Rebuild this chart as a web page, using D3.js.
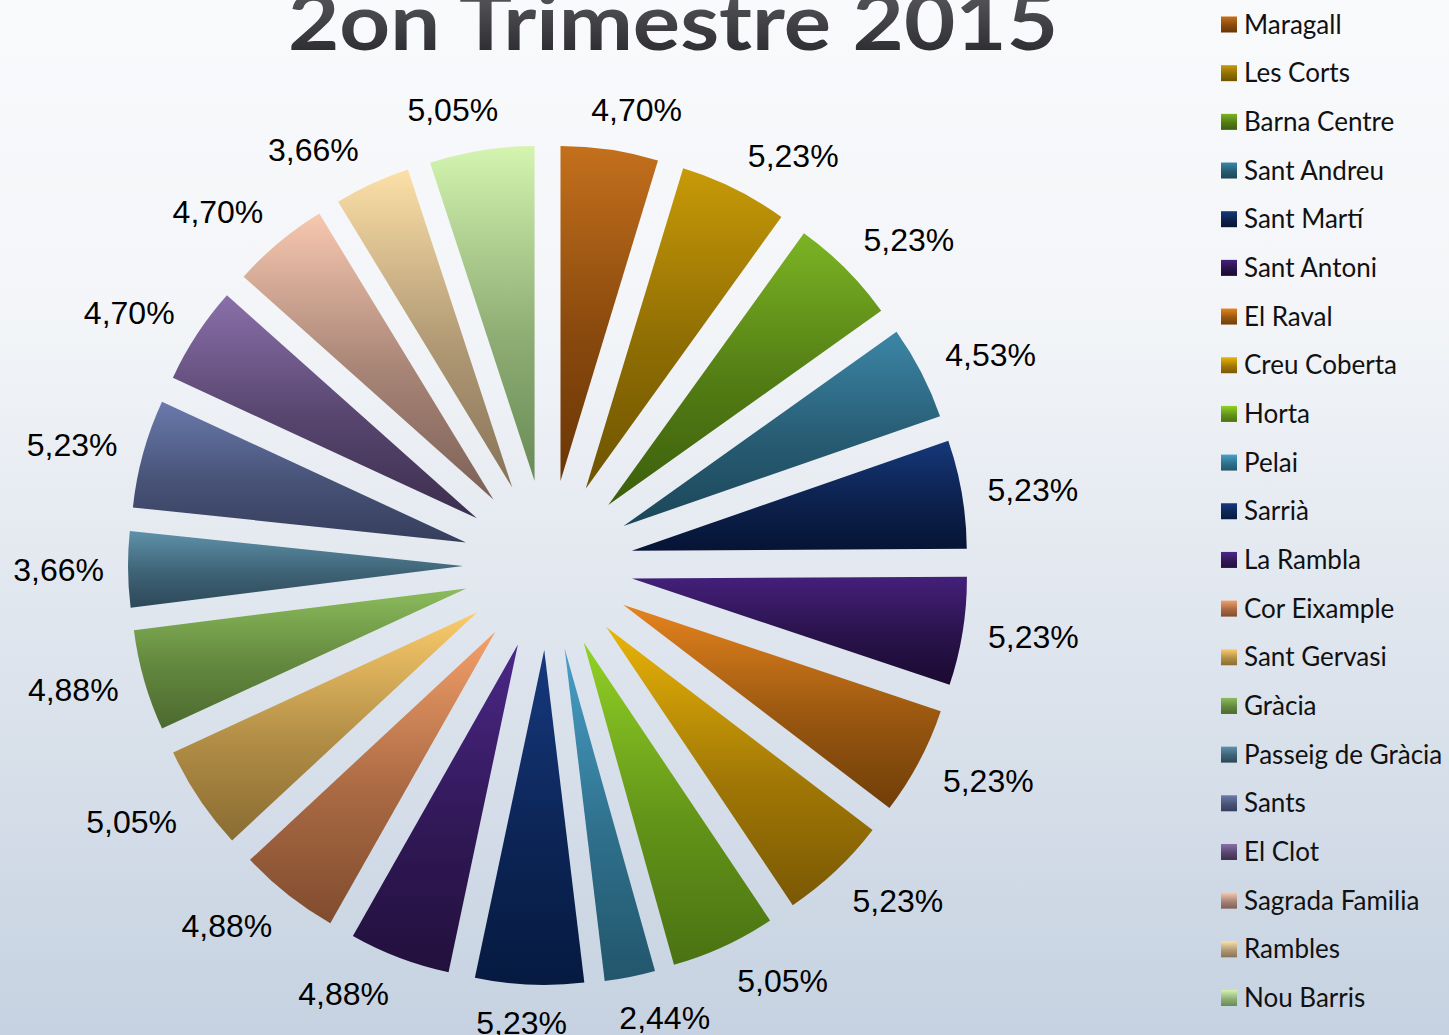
<!DOCTYPE html>
<html>
<head>
<meta charset="utf-8">
<script src="https://cdn.jsdelivr.net/npm/d3@7"></script>
<style>
  html, body { margin: 0; padding: 0; overflow: hidden; }
</style>
</head>
<body>
<div id="chart"></div>
<script>
// data, clockwise from 12 o'clock
const districts = [
  'Maragall', 'Les Corts', 'Barna Centre', 'Sant Andreu', 'Sant Martí', 'Sant Antoni',
  'El Raval', 'Creu Coberta', 'Horta', 'Pelai', 'Sarrià', 'La Rambla', 'Cor Eixample',
  'Sant Gervasi', 'Gràcia', 'Passeig de Gràcia', 'Sants', 'El Clot', 'Sagrada Familia',
  'Rambles', 'Nou Barris'
];
const shares = [
  4.70, 5.23, 5.23, 4.53, 5.23, 5.23, 5.23, 5.23, 5.05, 2.44, 5.23,
  4.88, 4.88, 5.05, 4.88, 3.66, 5.23, 4.70, 4.70, 3.66, 5.05
];

// gradient colours (top / bottom) for each slice
const topColors = [
  '#c4701c', '#c89a08', '#7cb424', '#3c86a6', '#16387a', '#44207a', '#e6841e',
  '#eab408', '#92d226', '#48a0c8', '#16397e', '#4c2888', '#f4a06a', '#fccc6c',
  '#8cbc5c', '#5e92aa', '#6a7aac', '#8a70aa', '#f8c8b0', '#fde0a8', '#d4f4b0'
];
const bottomColors = [
  '#6a3606', '#6e5400', '#3c5e0c', '#1c4658', '#061434', '#1a0a30', '#703e08',
  '#7a5804', '#4a7212', '#22566c', '#061a40', '#22103c', '#804c2e', '#8a6c32',
  '#4c6a2e', '#2c4858', '#363e5c', '#3c2e4e', '#7c6056', '#867258', '#6a8a56'
];

const width = 1449;
const height = 1035;
const cx = 548, cy = 565;
const radius = 335;
const explode = 85;

const svg = d3.select('#chart')
  .append('svg')
  .attr('width', width)
  .attr('height', height);

const defs = svg.append('defs');

// background
const bg = defs.append('linearGradient').attr('id', 'bg')
  .attr('x1', 0).attr('y1', 0).attr('x2', 0).attr('y2', 1);
bg.append('stop').attr('offset', '0%').attr('stop-color', '#f9fafc');
bg.append('stop').attr('offset', '30%').attr('stop-color', '#f3f5f8');
bg.append('stop').attr('offset', '100%').attr('stop-color', '#c6d2e1');
svg.append('rect').attr('width', width).attr('height', height).attr('fill', 'url(#bg)');

// slice gradients
topColors.forEach((c, i) => {
  const g = defs.append('linearGradient').attr('id', 'slice' + i)
    .attr('x1', 0).attr('y1', 0).attr('x2', 0).attr('y2', 1);
  g.append('stop').attr('offset', '0%').attr('stop-color', c);
  g.append('stop').attr('offset', '55%').attr('stop-color', d3.interpolateRgb(c, bottomColors[i])(0.65));
  g.append('stop').attr('offset', '100%').attr('stop-color', bottomColors[i]);
});

const titleGrad = defs.append('linearGradient').attr('id', 'titleGrad')
  .attr('x1', 0).attr('y1', 0).attr('x2', 0).attr('y2', 1);
titleGrad.append('stop').attr('offset', '0%').attr('stop-color', '#626268');
titleGrad.append('stop').attr('offset', '100%').attr('stop-color', '#242428');

// title (top is cut by the page edge, as in the original)
svg.append('text')
  .attr('x', 288)
  .attr('y', 50)
  .attr('textLength', 770)
  .attr('lengthAdjust', 'spacingAndGlyphs')
  .style('font-family', 'Lato, sans-serif')
  .style('font-weight', 'bold')
  .style('font-size', '78px')
  .attr('fill', 'url(#titleGrad)')
  .text('2on Trimestre 2015');

// pie
const pie = d3.pie().sort(null).value(d => d)(shares);
const arc = d3.arc().innerRadius(0).outerRadius(radius);
const plot = svg.append('g').attr('transform', `translate(${cx},${cy})`);

plot.selectAll('path.slice')
  .data(pie)
  .join('path')
  .attr('class', 'slice')
  .attr('transform', d => {
    const a = (d.startAngle + d.endAngle) / 2;
    return `translate(${explode * Math.sin(a)},${-explode * Math.cos(a)})`;
  })
  .attr('d', arc)
  .attr('fill', (d, i) => `url(#slice${i})`);

// percentage labels: pushed a little away from the vertical axis (best fit)
const push = d3.scaleLinear()
  .domain([0, 10, 22, 42, 60, 78, 90])
  .range([0, 3, 5, 3, 2, 1, 0]);
const deg = Math.PI / 180;
const pct = d => d3.format('.2f')(d).replace('.', ',') + '%';

plot.selectAll('text.pct')
  .data(pie)
  .join('text')
  .attr('class', 'pct')
  .attr('text-anchor', 'middle')
  .style('font-family', '"Liberation Sans", Arial, sans-serif')
  .style('font-size', '32px')
  .attr('fill', '#000')
  .text(d => pct(d.value))
  .each(function (d) {
    const half = this.getComputedTextLength() / 2;
    const mid = (d.startAngle + d.endAngle) / 2;
    const sx = Math.sin(mid), sy = -Math.cos(mid);
    // angle from the nearest vertical direction, in degrees
    const t = Math.acos(Math.abs(sy)) / deg;
    const dir = Math.sign(sx) * Math.sign(-sy) || 0;
    const a = mid + dir * push(t) * deg;
    const ux = Math.sin(a), uy = -Math.cos(a);
    const dist = 444 + half * Math.abs(ux) + 12 * Math.abs(uy);
    d3.select(this).attr('x', dist * ux).attr('y', dist * uy + 11.5);
  });

// legend
const ly = d3.scalePoint().domain(districts).range([24.5, 998]);
const legend = svg.append('g').attr('transform', 'translate(1221,0)');
const rows = legend.selectAll('g')
  .data(districts)
  .join('g')
  .attr('transform', d => `translate(0,${ly(d)})`);
rows.append('rect')
  .attr('y', -8)
  .attr('width', 16)
  .attr('height', 16)
  .attr('fill', (d, i) => `url(#slice${i})`);
rows.append('text')
  .attr('x', 23)
  .attr('y', 9)
  .style('font-family', 'Lato, sans-serif')
  .style('font-size', '26px')
  .attr('fill', '#111')
  .text(d => d);
</script>
</body>
</html>
